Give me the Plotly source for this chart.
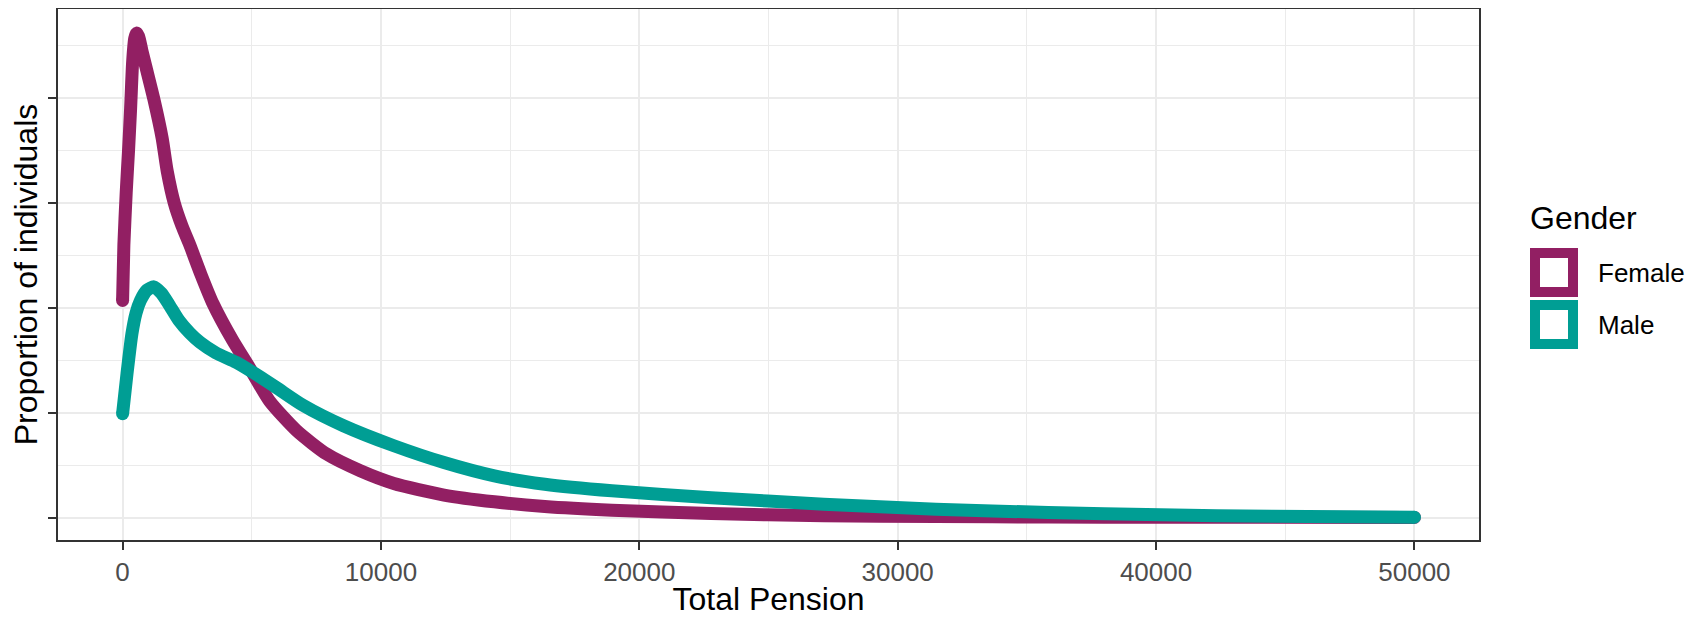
import plotly.graph_objects as go

# ---- data ----
female_x = [0, 50, 140, 230, 310, 390, 470, 540, 620, 750, 900, 1220, 1530, 1730, 2000,
            2300, 2600, 3030, 3500, 4260, 4910, 5690, 6730, 7900, 9200, 10500, 12440,
            14390, 16340, 18940, 22780, 27140, 31480, 35830, 40170, 44510, 50000]
female_y = [2.07, 2.6, 3.1, 3.5, 3.9, 4.35, 4.57, 4.62, 4.59, 4.45, 4.30, 3.98, 3.62, 3.30, 3.00,
            2.78, 2.60, 2.32, 2.04, 1.69, 1.43, 1.11, 0.83, 0.605, 0.446, 0.325, 0.215,
            0.15, 0.105, 0.07, 0.038, 0.017, 0.009, 0.005, 0.003, 0.002, 0.001]

male_x = [0, 170, 360, 520, 690, 950, 1210, 1500, 1800, 2180, 2600, 3000, 3610, 4390, 5040, 5950,
          6990, 8550, 10500, 12440, 14390, 16340, 18940, 22780, 27140, 31480, 35830, 40170,
          44510, 50000]
male_y = [0.99, 1.37, 1.75, 1.95, 2.07, 2.17, 2.20, 2.14, 2.03, 1.88, 1.76, 1.67, 1.57, 1.48, 1.385, 1.24,
          1.07, 0.876, 0.685, 0.525, 0.398, 0.318, 0.255, 0.19, 0.128, 0.08, 0.048, 0.026,
          0.012, 0.003]

x_ticks = [0, 10000, 20000, 30000, 40000, 50000]
x_tick_labels = ["0", "10000", "20000", "30000", "40000", "50000"]
y_ticks = [0, 1, 2, 3, 4]
y_tick_labels = ["", "", "", "", ""]

series_names = ["Female", "Male"]
series_colors = ["#921F63", "#009E94"]

# ---- layout geometry (page pixels; the page body has an 8px margin) ----
OFF = 8
W, H = 1694 - OFF, 617 - OFF
PLOT_L, PLOT_R, PLOT_T, PLOT_B = 58, 1479, 9, 540   # in page pixels
L = PLOT_L - OFF
T = PLOT_T - OFF
R = (OFF + W) - PLOT_R
B = (OFF + H) - PLOT_B
PW = PLOT_R - PLOT_L
PH = PLOT_B - PLOT_T
FONT = "Liberation Sans, Arial, sans-serif"
LW = 13


def px2paper_x(px):
    return (px - PLOT_L) / PW


def px2paper_y(py):
    return (PLOT_B - py) / PH


fig = go.Figure()
for name, xs, ys, col in [("Female", female_x, female_y, series_colors[0]),
                          ("Male", male_x, male_y, series_colors[1])]:
    fig.add_trace(go.Scatter(x=xs, y=ys, mode="lines", name=name,
                             line=dict(color=col, width=LW, shape="spline", smoothing=0.6),
                             showlegend=False, hoverinfo="skip"))
    fig.add_trace(go.Scatter(x=[xs[0], xs[-1]], y=[ys[0], ys[-1]], mode="markers",
                             marker=dict(color=col, size=LW, line=dict(width=0)),
                             showlegend=False, hoverinfo="skip"))

axis_common = dict(
    showline=True, mirror=True, linecolor="#333333", linewidth=1.5,
    ticks="outside", ticklen=8, tickwidth=2, tickcolor="#333333",
    showgrid=True, gridcolor="#EBEBEB", gridwidth=2, zeroline=False,
)

fig.update_layout(
    width=W, height=H,
    margin=dict(l=L, r=R, t=T, b=B, autoexpand=False),
    paper_bgcolor="white", plot_bgcolor="white",
    font=dict(family=FONT, color="black"),
    xaxis=dict(
        range=[-2500, 52500], tickvals=x_ticks, ticktext=x_tick_labels,
        tickfont=dict(size=26, color="#4D4D4D", family=FONT),
        title=dict(text="Total Pension", font=dict(size=32, color="black", family=FONT), standoff=4),
        minor=dict(dtick=5000, tick0=0, showgrid=True, gridcolor="#EBEBEB", gridwidth=1.2, ticks=""),
        **axis_common,
    ),
    yaxis=dict(
        range=[-0.214, 4.85], tickvals=y_ticks, ticktext=y_tick_labels,
        tickfont=dict(size=26, color="#4D4D4D", family=FONT),
        title=dict(text="Proportion of individuals", font=dict(size=32, color="black", family=FONT), standoff=10),
        minor=dict(dtick=0.5, tick0=0, showgrid=True, gridcolor="#EBEBEB", gridwidth=1.2, ticks=""),
        **axis_common,
    ),
    showlegend=False,
)

# ---- manual legend (ggplot style outlined keys) ----
shapes = []
annotations = []
annotations.append(dict(text="Gender", x=px2paper_x(1528), y=px2paper_y(218), xref="paper", yref="paper",
                        xanchor="left", yanchor="middle", showarrow=False,
                        font=dict(size=32, color="black", family=FONT)))
key_tops = [248, 300]
for name, col, top in zip(series_names, series_colors, key_tops):
    shapes.append(dict(type="rect", xref="paper", yref="paper",
                       x0=px2paper_x(1535), x1=px2paper_x(1573),
                       y0=px2paper_y(top + 5), y1=px2paper_y(top + 44),
                       line=dict(color=col, width=10), fillcolor="white"))
    annotations.append(dict(text=name, x=px2paper_x(1596), y=px2paper_y(top + 25), xref="paper", yref="paper",
                            xanchor="left", yanchor="middle", showarrow=False,
                            font=dict(size=26, color="black", family=FONT)))
fig.update_layout(shapes=shapes, annotations=annotations)

fig.write_html("out.html")
